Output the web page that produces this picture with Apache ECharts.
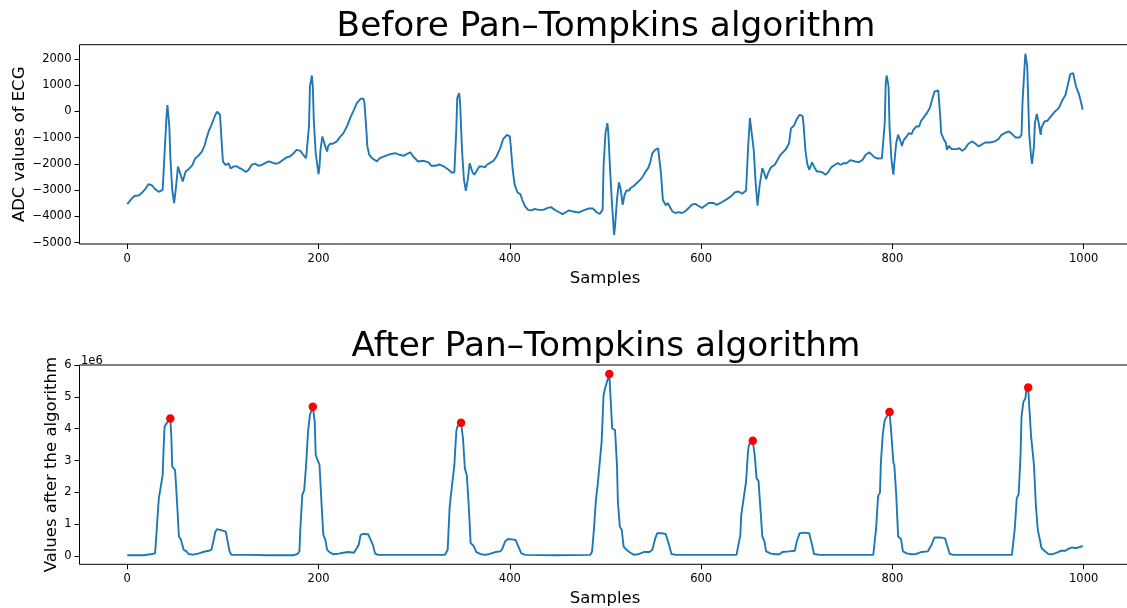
<!DOCTYPE html>
<html>
<head>
<meta charset="utf-8">
<title>Pan–Tompkins QRS detection</title>
<script src="https://cdn.jsdelivr.net/npm/echarts@6/dist/echarts.min.js"></script>
<style>
  html, body { margin: 0; padding: 0; background: #fff; }
  #chart { width: 1127px; height: 608px; }
</style>
</head>
<body>
<div id="chart"></div>
<script>
// Raw ECG (ADC counts), as [sample index, value] pairs
const ecgSignal = [
  [0,-3530],[5,-3300],[8,-3210],[12,-3200],[15,-3110],[19,-2950],[22,-2770],[26,-2820],[29,-2960],
  [33,-3060],[35,-3090],[37,-2990],[39,-1590],[41,-190],[42,240],[44,-600],[45,-1715],[47,-2985],
  [49,-3490],[51,-2860],[53,-2100],[54,-2040],[55,-2170],[58,-2670],[61,-2290],[65,-2170],[68,-2040],
  [71,-1790],[74,-1700],[78,-1530],[81,-1280],[83,-1000],[85,-770],[88,-515],[92,-133],[94,-8],
  [96,-60],[97,-133],[99,-1340],[100,-1910],[103,-2040],[106,-1975],[108,-2170],[111,-2100],
  [114,-2080],[117,-2150],[120,-2200],[124,-2310],[127,-2220],[130,-2030],[134,-1990],[137,-2070],
  [141,-2030],[144,-1970],[148,-1900],[151,-1940],[155,-1990],[158,-1970],[162,-1870],[167,-1740],
  [170,-1715],[174,-1590],[177,-1460],[181,-1500],[184,-1650],[187,-1780],[188,-1740],[190,-570],
  [191,950],[193,1370],[194,950],[195,-320],[197,-1590],[200,-2390],[201,-2100],[202,-1460],
  [204,-950],[205,-1080],[207,-1330],[209,-1525],[210,-1330],[212,-1230],[215,-1230],[217,-1280],
  [219,-1140],[223,-950],[226,-825],[230,-546],[233,-254],[237,64],[240,318],[244,483],[247,483],
  [248,318],[250,-700],[251,-1330],[253,-1650],[256,-1780],[258,-1715],[261,-1900],[264,-1780],
  [270,-1690],[275,-1625],[280,-1590],[285,-1650],[289,-1690],[292,-1625],[296,-1560],[299,-1715],
  [304,-1905],[310,-1880],[315,-1943],[318,-2070],[322,-2070],[326,-2020],[331,-2095],[336,-2220],
  [339,-2325],[342,-2325],[344,-700],[345,510],[347,700],[348,318],[350,-1460],[352,-2600],
  [354,-3020],[356,-2600],[358,-1970],[359,-1995],[361,-2325],[363,-2410],[365,-2290],[368,-2095],
  [371,-2095],[374,-2130],[376,-2030],[379,-1970],[383,-1880],[386,-1715],[390,-1400],[393,-1050],
  [395,-1016],[397,-890],[400,-950],[401,-1330],[403,-2220],[405,-2790],[408,-3086],[411,-3150],
  [413,-3365],[416,-3620],[419,-3750],[423,-3770],[426,-3710],[430,-3750],[435,-3750],[439,-3680],
  [443,-3645],[447,-3750],[452,-3850],[455,-3910],[458,-3850],[462,-3770],[466,-3810],[472,-3850],
  [477,-3770],[482,-3700],[487,-3700],[491,-3850],[494,-3900],[497,-3750],[498,-2095],[500,-825],
  [502,-445],[503,-825],[505,-2350],[507,-3620],[509,-4700],[510,-4380],[512,-3365],[514,-2700],
  [516,-2985],[518,-3555],[520,-3175],[522,-3010],[525,-3010],[526,-2920],[529,-2860],[532,-2755],
  [534,-2730],[538,-2540],[541,-2350],[545,-2130],[547,-1905],[549,-1590],[552,-1460],[555,-1400],
  [556,-1435],[558,-2350],[560,-3365],[563,-3580],[565,-3490],[567,-3555],[570,-3810],[573,-3870],
  [576,-3835],[580,-3870],[583,-3810],[587,-3680],[590,-3555],[594,-3520],[597,-3590],[601,-3680],
  [604,-3590],[608,-3490],[610,-3430],[613,-3490],[616,-3555],[621,-3470],[627,-3340],[632,-3213],
  [635,-3086],[639,-3050],[643,-3137],[647,-3010],[649,-1460],[651,-254],[653,-318],[655,-1460],
  [657,-2730],[659,-3590],[661,-2860],[664,-2160],[666,-2350],[668,-2580],[670,-2350],[673,-2130],
  [677,-2030],[680,-1840],[683,-1650],[685,-1590],[689,-1420],[692,-1200],[694,-635],[697,-546],
  [700,-292],[703,-127],[706,-165],[707,-445],[709,-1460],[711,-1995],[713,-2220],[716,-1943],
  [719,-2160],[721,-2290],[724,-2290],[727,-2325],[730,-2410],[733,-2310],[736,-2130],[740,-2030],
  [743,-1970],[746,-2030],[749,-1970],[752,-1970],[756,-1855],[761,-1905],[765,-1930],[769,-1840],
  [772,-1650],[776,-1560],[778,-1590],[781,-1740],[784,-1790],[789,-1780],[790,-1740],[792,-445],
  [793,1080],[794,1370],[796,950],[797,-570],[799,-1840],[801,-2410],[802,-1970],[804,-1200],
  [806,-890],[808,-1080],[810,-1310],[812,-1080],[815,-950],[817,-825],[820,-864],[822,-700],
  [825,-570],[828,-570],[830,-355],[833,-216],[836,-64],[839,127],[842,508],[844,762],[846,825],
  [848,800],[850,-190],[851,-825],[854,-1080],[856,-1200],[857,-1460],[859,-1310],[862,-1435],
  [864,-1410],[867,-1435],[870,-1400],[873,-1500],[876,-1420],[879,-1245],[883,-1140],[886,-1200],
  [890,-1330],[893,-1270],[897,-1180],[902,-1180],[907,-1140],[911,-1050],[914,-890],[919,-800],
  [922,-762],[926,-890],[929,-990],[933,-990],[935,-890],[936,318],[938,1590],[939,2200],[941,1715],
  [942,445],[943,-825],[945,-1715],[946,-1995],[948,-1330],[949,-445],[951,-90],[953,-445],
  [955,-890],[956,-600],[959,-380],[962,-355],[964,-318],[967,-127],[970,0],[974,127],[977,380],
  [981,635],[983,950],[986,1420],[989,1460],[991,1420],[992,950],[995,673],[997,380],[999,64]
];

// Integrated output of the Pan–Tompkins stages, in units of 1e6
const integratedSignal = [
  [0,0.02],[17,0.02],[26,0.06],[29,0.08],[30,0.45],[32,1.39],[33,1.81],[35,1.86],[37,2.54],
  [38,3.38],[39,4.06],[41,4.17],[43,4.22],[45,4.32],[46,3.80],[47,2.81],[48,2.75],[50,2.70],
  [52,1.71],[54,0.61],[56,0.52],[59,0.19],[62,0.14],[64,0.06],[69,0.04],[75,0.08],[80,0.13],
  [85,0.16],[88,0.19],[90,0.45],[92,0.76],[94,0.84],[99,0.80],[103,0.76],[105,0.45],[107,0.14],
  [109,0.03],[129,0.03],[146,0.02],[174,0.02],[178,0.06],[180,0.14],[181,0.87],[183,1.92],
  [185,2.07],[187,2.86],[189,3.91],[191,4.43],[192,4.53],[194,4.69],[196,4.22],[197,3.17],
  [199,3.02],[201,2.86],[203,1.71],[205,0.66],[207,0.52],[209,0.19],[212,0.10],[216,0.05],
  [221,0.07],[226,0.10],[231,0.12],[237,0.10],[239,0.08],[242,0.35],[244,0.66],[247,0.69],
  [252,0.68],[254,0.62],[257,0.33],[259,0.08],[262,0.03],[289,0.03],[332,0.03],[335,0.19],
  [337,1.50],[338,1.81],[340,1.86],[342,2.86],[344,3.91],[345,4.06],[347,4.12],[349,4.19],
  [351,3.70],[353,2.75],[355,2.54],[357,1.60],[359,0.40],[362,0.32],[365,0.12],[369,0.06],
  [374,0.03],[379,0.06],[385,0.12],[390,0.14],[392,0.21],[395,0.45],[398,0.53],[402,0.52],
  [406,0.50],[409,0.29],[412,0.08],[416,0.03],[446,0.02],[484,0.03],[486,0.14],[488,0.87],
  [490,1.76],[492,2.28],[494,2.34],[496,3.59],[498,5.06],[500,5.32],[502,5.37],[504,5.72],
  [505,5.16],[507,4.01],[510,3.96],[512,2.86],[513,1.70],[515,0.92],[517,0.82],[519,0.29],
  [522,0.19],[526,0.10],[530,0.03],[534,0.05],[540,0.12],[546,0.12],[549,0.19],[552,0.55],
  [554,0.71],[559,0.71],[563,0.69],[566,0.40],[569,0.06],[574,0.03],[637,0.03],[639,0.05],
  [641,0.66],[642,1.29],[643,1.50],[645,1.55],[647,2.34],[649,3.28],[650,3.49],[652,3.54],
  [654,3.62],[656,3.17],[658,2.44],[660,2.36],[661,1.92],[664,0.61],[666,0.47],[668,0.14],
  [673,0.07],[678,0.05],[682,0.05],[685,0.12],[692,0.14],[698,0.16],[700,0.45],[703,0.71],
  [708,0.73],[713,0.71],[716,0.35],[718,0.06],[724,0.03],[780,0.03],[781,0.06],[783,0.87],
  [785,1.88],[787,1.99],[788,2.96],[790,3.85],[792,4.27],[794,4.38],[795,4.40],[797,4.53],
  [799,3.80],[801,2.94],[802,2.86],[804,1.92],[806,0.61],[809,0.53],[811,0.14],[815,0.08],
  [820,0.05],[825,0.06],[830,0.12],[837,0.14],[841,0.35],[844,0.58],[850,0.58],[855,0.55],
  [857,0.35],[860,0.06],[864,0.03],[925,0.03],[926,0.08],[928,0.87],[930,1.81],[932,1.94],
  [934,3.17],[935,4.38],[937,4.85],[939,4.95],[940,5.21],[942,5.30],[943,4.74],[945,3.77],
  [946,3.72],[948,2.86],[950,1.60],[952,0.82],[954,0.76],[956,0.24],[959,0.16],[963,0.06],
  [967,0.05],[972,0.10],[976,0.16],[981,0.16],[984,0.22],[988,0.27],[991,0.24],[995,0.27],
  [997,0.30],[999,0.31]
];

// Detected R peaks: sample index and integrated value (1e6)
const peakSamples = [45, 194, 349, 504, 654, 797, 942];
const peakValues  = [4.32, 4.69, 4.19, 5.72, 3.62, 4.53, 5.30];

// Tick positions
const sampleTicks = [0, 200, 400, 600, 800, 1000];
const ecgTicks = [-5000, -4000, -3000, -2000, -1000, 0, 1000, 2000];
const integratedTicks = [0, 1, 2, 3, 4, 5, 6];

const FONT = 'DejaVu Sans';
const LINE = '#1f77b4';
const minusSign = v => (v < 0 ? '\u2212' + Math.abs(v) : String(v));

function xAxisCfg(gridIndex) {
  return {
    type: 'value', gridIndex: gridIndex,
    min: -49.95, max: 1048.95,
    name: 'Samples', nameLocation: 'middle', nameGap: 26, nameMoveOverlap: false,
    nameTextStyle: { fontFamily: FONT, fontSize: 16.5, color: '#000' },
    axisLine: { show: false, onZero: false },
    axisTick: { show: true, inside: false, length: 5, lineStyle: { color: '#000', width: 1 }, customValues: sampleTicks },
    axisLabel: { fontFamily: FONT, fontSize: 11.5, color: '#000', margin: 9, customValues: sampleTicks, formatter: minusSign },
    splitLine: { show: false }
  };
}

function yAxisCfg(gridIndex, min, max, name, gap, ticks) {
  return {
    type: 'value', gridIndex: gridIndex, min: min, max: max,
    name: name, nameLocation: 'middle', nameGap: gap, nameMoveOverlap: false,
    nameTextStyle: { fontFamily: FONT, fontSize: 16.5, color: '#000' },
    axisLine: { show: false, onZero: false },
    axisTick: { show: true, inside: false, length: 5, lineStyle: { color: '#000', width: 1 }, customValues: ticks },
    axisLabel: { fontFamily: FONT, fontSize: 11.5, color: '#000', margin: 8, customValues: ticks, formatter: minusSign },
    splitLine: { show: false }
  };
}

const gridBase = { left: 79.5, width: 1051, height: 199.3, show: true, borderColor: '#000', borderWidth: 1,
  backgroundColor: 'transparent', containLabel: false, outerBoundsMode: 'none' };

const chart = echarts.init(document.getElementById('chart'), null, { renderer: 'canvas' });
chart.setOption({
  animation: false,
  backgroundColor: '#fff',
  title: [
    { text: 'Before Pan–Tompkins algorithm', left: 601, top: 5, textAlign: 'center',
      textStyle: { fontFamily: FONT, fontSize: 34.3, fontWeight: 'normal', color: '#000' } },
    { text: 'After Pan–Tompkins algorithm', left: 601, top: 325, textAlign: 'center',
      textStyle: { fontFamily: FONT, fontSize: 34.3, fontWeight: 'normal', color: '#000' } },
    { text: '1e6', left: 76, top: 350,
      textStyle: { fontFamily: FONT, fontSize: 11.5, fontWeight: 'normal', color: '#000' } }
  ],
  grid: [
    Object.assign({}, gridBase, { top: 44.7 }),
    Object.assign({}, gridBase, { top: 365 })
  ],
  xAxis: [xAxisCfg(0), xAxisCfg(1)],
  yAxis: [
    yAxisCfg(0, -5050, 2545, 'ADC values of ECG', 51.5, ecgTicks),
    yAxisCfg(1, -0.265, 6.005, 'Values after the algorithm', 19, integratedTicks)
  ],
  series: [
    { type: 'line', xAxisIndex: 0, yAxisIndex: 0, data: ecgSignal, showSymbol: false,
      lineStyle: { color: LINE, width: 1.9 }, smooth: false },
    { type: 'line', xAxisIndex: 1, yAxisIndex: 1, data: integratedSignal, showSymbol: false,
      lineStyle: { color: LINE, width: 1.9 }, smooth: false },
    { type: 'scatter', xAxisIndex: 1, yAxisIndex: 1, symbol: 'circle', symbolSize: 8.5,
      itemStyle: { color: '#ff0000', opacity: 1 }, z: 5,
      data: peakSamples.map((s, i) => [s, peakValues[i]]) }
  ]
});
</script>
</body>
</html>
